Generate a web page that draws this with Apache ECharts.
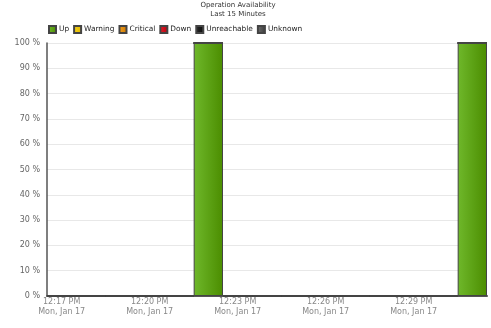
<!DOCTYPE html>
<html><head><meta charset="utf-8">
<script src="https://cdn.jsdelivr.net/npm/echarts@6/dist/echarts.min.js"></script>
<style>html,body{margin:0;padding:0;background:#fff}#c{width:491px;height:328px}</style>
</head><body><div id="c"></div>
<script>
const minutes = ['12:17 PM','12:18 PM','12:19 PM','12:20 PM','12:21 PM','12:22 PM','12:23 PM','12:24 PM','12:25 PM','12:26 PM','12:27 PM','12:28 PM','12:29 PM','12:30 PM','12:31 PM'];
const dateLabel = 'Mon, Jan 17';
const statusNames = ['Up','Warning','Critical','Down','Unreachable','Unknown'];
const upValues = [0,0,0,0,0,100,0,0,0,0,0,0,0,0,100];
const warningValues = [0,0,0,0,0,0,0,0,0,0,0,0,0,0,0];
const criticalValues = [0,0,0,0,0,0,0,0,0,0,0,0,0,0,0];
const downValues = [0,0,0,0,0,0,0,0,0,0,0,0,0,0,0];
const unreachableValues = [0,0,0,0,0,0,0,0,0,0,0,0,0,0,0];
const unknownValues = [0,0,0,0,0,0,0,0,0,0,0,0,0,0,0];
const yTicks = [0,10,20,30,40,50,60,70,80,90,100];

const colorPairs = [
  ['#6fb82b','#4b8d00'],
  ['#f7d21a','#e0b800'],
  ['#f0a020','#d07800'],
  ['#e4202a','#b80010'],
  ['#2a2a2a','#0a0a0a'],
  ['#707070','#3a3a3a']
];
const allValues = [upValues,warningValues,criticalValues,downValues,unreachableValues,unknownValues];
const font = 'DejaVu Sans, Verdana, sans-serif';

const chart = echarts.init(document.getElementById('c'), null, {renderer:'canvas'});
chart.setOption({
  animation:false,
  textStyle:{fontFamily:font},
  title:{
    text:'Operation Availability\nLast 15 Minutes',
    left:238, top:1, padding:0, textAlign:'center',
    textStyle:{fontSize:7, fontWeight:'normal', color:'#333', lineHeight:9, fontFamily:font}
  },
  legend:{
    data:statusNames, left:48, top:25, padding:0,
    itemWidth:7, itemHeight:7, itemGap:4,
    icon:'rect',
    textStyle:{fontSize:7.4, color:'#222', padding:[0,0,0,-2], fontFamily:font}
  },
  grid:{left:47, right:4, top:43, bottom:32, containLabel:false},
  xAxis:{
    type:'category', data:minutes,
    axisLine:{lineStyle:{color:'#555', width:2}},
    axisTick:{show:false},
    axisLabel:{interval:2, fontSize:8, color:'#888', lineHeight:10, margin:1,
      formatter:v => v + '\n' + dateLabel},
    splitLine:{show:false}
  },
  yAxis:{
    type:'value', min:yTicks[0], max:yTicks[yTicks.length-1], interval:10,
    axisLine:{show:true, lineStyle:{color:'#555', width:1.5}},
    axisTick:{show:false},
    axisLabel:{fontSize:8, color:'#666', margin:7, formatter:'{value} %'},
    splitLine:{lineStyle:{color:'#e8e8e8'}}
  },
  series: statusNames.map((n,i)=>({
    name:n, type:'bar', stack:'s', data:allValues[i],
    barWidth:'100%', barCategoryGap:0,
    itemStyle:{
      color:new echarts.graphic.LinearGradient(0,0,1,0,[{offset:0,color:colorPairs[i][0]},{offset:1,color:colorPairs[i][1]}]),
      borderColor:'#444', borderWidth:1
    }
  }))
});
</script></body></html>
